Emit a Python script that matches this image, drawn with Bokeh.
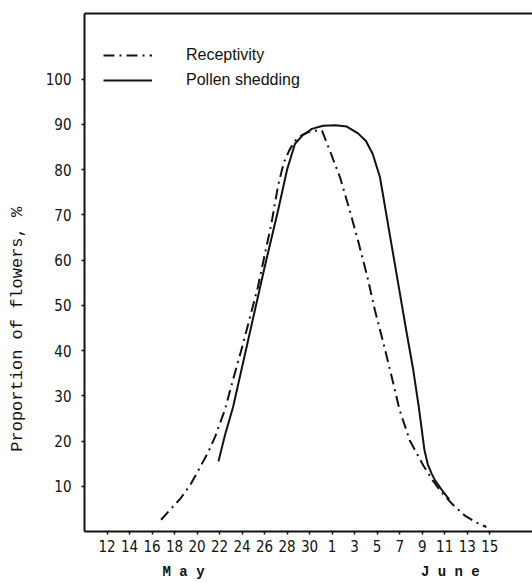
import math
from bokeh.plotting import figure
from bokeh.models import (Range1d, LinearAxis, FixedTicker, Legend, LegendItem)
from bokeh.embed import file_html
from bokeh.resources import INLINE

# ---- data (day number: May d -> d, June d -> 31 + d) ----
receptivity_day = [16.8, 17.6, 18.5, 19.4, 20.2, 21.0, 21.6, 22.5, 23.1, 24.0, 25.4, 26.6,
                   27.2, 27.7, 28.2, 28.7, 29.3, 29.9, 30.5, 31.1, 31.9, 32.7, 33.5, 34.3,
                   35.1, 35.8, 36.6, 37.3, 38.0, 38.9, 40.1, 40.9, 41.7, 42.7, 43.8, 44.8, 45.7]
receptivity_pct = [2.6, 4.8, 7.2, 10.3, 13.9, 17.6, 20.9, 27.1, 32.7, 40.7, 54.0, 68.0,
                   76.5, 81.5, 84.3, 86.3, 87.6, 88.3, 88.6, 88.6, 83.5, 78.3, 71.5, 64.3,
                   56.6, 48.9, 41.2, 34.1, 26.8, 20.1, 14.6, 11.4, 8.7, 6.0, 3.5, 2.0, 1.0]

pollen_day = [21.9, 22.5, 23.2, 24.6, 26.0, 27.2, 28.0, 28.7, 29.4, 30.2, 31.2, 32.3, 33.3,
              34.3, 35.0, 35.6, 36.25, 37.0, 38.0, 38.6, 39.2, 39.7, 40.2, 40.5, 40.84,
              41.14, 41.8, 42.4]
pollen_pct = [15.5, 21.5, 27.5, 43.0, 58.4, 71.0, 80.0, 85.7, 87.6, 89.0, 89.7, 89.8, 89.5,
              88.0, 86.3, 83.5, 78.3, 67.4, 52.9, 44.2, 35.8, 27.5, 18.0, 14.8, 12.8,
              11.3, 9.0, 7.1]

x_tick_days = [12, 14, 16, 18, 20, 22, 24, 26, 28, 30, 32, 34, 36, 38, 40, 42, 44, 46]
x_tick_labels = ["12", "14", "16", "18", "20", "22", "24", "26", "28", "30",
                 "1", "3", "5", "7", "9", "11", "13", "15"]
y_ticks = [10, 20, 30, 40, 50, 60, 70, 80, 90, 100]

month_names = ["M a y", "J u n e"]
month_centers = [18.8, 42.5]
y_title = "Proportion of flowers, %"
y_title_center = 44.7

TICK_FONT = "'Liberation Sans Narrow', 'DejaVu Sans Condensed', 'Liberation Sans'"
INK = "#111111"

p = figure(width=532, height=583, x_range=Range1d(10, 49.8), y_range=Range1d(0, 114.5),
           output_backend="svg", toolbar_location=None,
           min_border_left=84, min_border_right=0, min_border_top=13, min_border_bottom=52)
p.outline_line_color = None
p.xgrid.grid_line_color = None
p.ygrid.grid_line_color = None
p.background_fill_color = "white"
p.border_fill_color = "white"

# main axes
xa = p.xaxis[0]
xa.ticker = FixedTicker(ticks=x_tick_days)
xa.major_label_overrides = {d: l for d, l in zip(x_tick_days, x_tick_labels)}
ya = p.yaxis[0]
ya.ticker = FixedTicker(ticks=y_ticks)
for ax in (xa, ya):
    ax.axis_line_width = 2
    ax.axis_line_color = INK
    ax.major_tick_line_color = INK
    ax.major_tick_line_width = 1.5
    ax.major_tick_in = 0
    ax.major_tick_out = 3
    ax.minor_tick_line_color = None
    ax.major_label_text_font = TICK_FONT
    ax.major_label_text_color = INK
xa.major_label_text_font_size = "15px"
xa.major_label_standoff = 5
ya.major_label_text_font_size = "15px"
ya.major_label_standoff = 10

# top border line
top = LinearAxis(ticker=FixedTicker(ticks=[]), axis_line_width=2, axis_line_color=INK,
                 major_tick_line_color=None, minor_tick_line_color=None,
                 major_label_text_font_size="0px")
p.add_layout(top, "above")

# month names as a second bottom axis
months = LinearAxis(ticker=FixedTicker(ticks=month_centers),
                    major_label_overrides={c: n for c, n in zip(month_centers, month_names)},
                    axis_line_color=None, major_tick_line_color=None, minor_tick_line_color=None,
                    major_tick_in=0, major_tick_out=0, major_label_standoff=9,
                    major_label_text_font="Liberation Mono", major_label_text_font_style="bold",
                    major_label_text_font_size="14px", major_label_text_color=INK)
p.add_layout(months, "below")

# y title as a second left axis
ytitle = LinearAxis(ticker=FixedTicker(ticks=[y_title_center]),
                    major_label_overrides={y_title_center: y_title},
                    major_label_orientation="vertical",
                    axis_line_color=None, major_tick_line_color=None, minor_tick_line_color=None,
                    major_tick_in=0, major_tick_out=0, major_label_standoff=15,
                    major_label_text_font="Liberation Mono", major_label_text_font_size="17px",
                    major_label_text_color=INK)
p.add_layout(ytitle, "left")

# curves
r1 = p.line(receptivity_day, receptivity_pct, line_color=INK, line_width=2,
            line_dash="11 5 2 5", line_join="round")
r2 = p.line(pollen_day, pollen_pct, line_color=INK, line_width=2, line_join="round")

legend = Legend(items=[LegendItem(label="Receptivity", renderers=[r1]),
                       LegendItem(label="Pollen shedding", renderers=[r2])],
                location=(19, 441), glyph_width=49, glyph_height=20, label_height=20,
                label_standoff=34, spacing=5, padding=0, margin=0,
                border_line_color=None, background_fill_alpha=0,
                label_text_font="Liberation Sans", label_text_font_size="16px",
                label_text_color=INK)
p.add_layout(legend, "center")

open("out.html", "w").write(file_html(p, INLINE))
